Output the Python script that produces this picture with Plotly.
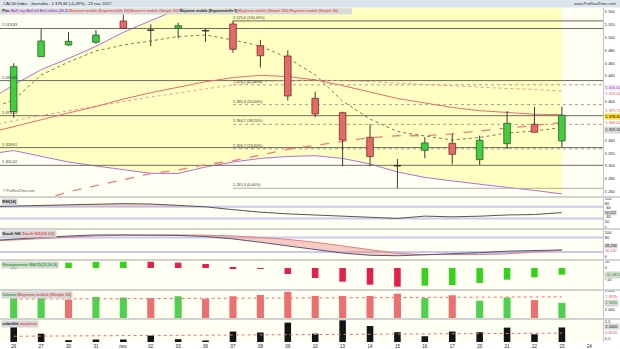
import numpy as np
import plotly.graph_objects as go

# ---------------- data ----------------
dates = ["26", "27", "30", "31", "nov.", "02", "03", "06", "07", "08", "09",
         "10", "13", "14", "15", "16", "17", "20", "21", "22", "23", "24"]

opens = [5384.4, 5470.0, 5488.2, 5492.4, 5525.5, 5511.0, 5514.2, 5510.0, 5520.8, 5487.1, 5471.1,
         5405.3, 5382.9, 5344.6, 5300.0, 5324.4, 5335.3, 5309.8, 5334.7, 5364.9, 5338.9]
highs = [5459.7, 5513.0, 5508.0, 5511.5, 5535.9, 5520.4, 5522.9, 5514.2, 5525.6, 5496.0, 5479.9,
         5415.6, 5384.4, 5365.3, 5310.9, 5345.1, 5350.2, 5347.1, 5385.5, 5391.8, 5392.2]
lows = [5375.1, 5469.5, 5486.6, 5490.2, 5514.0, 5486.2, 5498.6, 5493.3, 5476.2, 5452.9, 5401.6,
        5375.7, 5299.5, 5299.5, 5265.3, 5312.0, 5302.6, 5301.6, 5326.4, 5352.4, 5328.5]
closes = [5454.4, 5494.4, 5493.9, 5503.7, 5514.2, 5511.5, 5518.2, 5510.5, 5481.5, 5471.5, 5408.9,
          5380.9, 5340.4, 5314.5, 5300.8, 5335.8, 5318.2, 5340.0, 5366.4, 5352.4, 5378.84]

# indicators start one session earlier (25 oct.) so that lines reach the left edge
ind_x = list(range(-1, 21))
bb_upper = [5400.0, 5426.0, 5449.8, 5467.2, 5486.0, 5507.8, 5526.1, 5543.7, 5552.0, 5556.0, 5551.0,
            5551.0, 5551.0, 5554.0, 5560.0, 5567.0, 5571.0, 5572.0, 5573.0, 5574.0, 5576.0, 5577.0]
bb_mid = [5362.0, 5370.8, 5378.5, 5385.8, 5393.3, 5400.3, 5407.3, 5413.5, 5419.8, 5426.0, 5430.6,
          5433.0, 5433.7, 5433.0, 5431.4, 5429.0, 5426.7, 5424.4, 5422.0, 5420.5, 5419.0, 5416.6]
bb_lower = [5318.0, 5324.0, 5315.0, 5306.2, 5300.0, 5293.8, 5288.6, 5288.3, 5298.4, 5306.2, 5311.7,
            5314.8, 5316.0, 5311.7, 5303.1, 5290.7, 5282.2, 5276.7, 5271.3, 5266.6, 5262.0, 5256.5]
ema20 = [5350.6, 5361.4, 5372.3, 5382.4, 5392.5, 5404.0, 5414.0, 5423.0, 5431.0, 5437.5, 5441.0,
         5439.0, 5434.0, 5425.0, 5415.0, 5405.0, 5398.0, 5391.0, 5386.0, 5383.0, 5380.5, 5379.7]
sma50 = [5222.0, 5234.0, 5246.0, 5260.0, 5269.0, 5278.0, 5288.0, 5294.0, 5302.0, 5308.0, 5317.0,
         5326.0, 5332.0, 5338.0, 5344.0, 5347.0, 5347.0, 5350.0, 5355.0, 5359.0, 5363.0, 5368.0]
ema5 = [5387.0, 5402.6, 5441.5, 5461.7, 5478.8, 5488.2, 5494.4, 5501.4, 5503.7, 5496.0, 5486.6,
        5468.0, 5441.5, 5401.0, 5373.0, 5353.6, 5346.7, 5340.4, 5344.3, 5351.3, 5354.4, 5359.9]

support_levels = [5513.83, 5432.80, 5378.23, 5328.61, 5301.02]
fib_levels = [5525.6, 5426.2, 5395.4, 5364.7, 5326.7, 5265.3]
fib_pcts = [100.0, 61.8, 50.0, 38.2, 23.6, 0.0]
fib_start = 8

price_ticks = [5260, 5280, 5300, 5320, 5340, 5400, 5440, 5460, 5480, 5500, 5520, 5540]
rsi_ticks = [0, 20, 80, 100]
rsi_mid_ticks = [60, 40]
stoch_ticks = [0, 80, 100]

rsi = [70.6, 72.6, 76.5, 79.0, 81.0, 81.0, 79.7, 75.8, 70.0, 60.3, 51.6, 45.8, 42.0, 38.7, 33.9,
       30.0, 38.0, 35.5, 37.7, 42.0, 43.5, 50.122]
stoch_k = [66.0, 74.0, 80.0, 86.0, 90.5, 90.5, 90.5, 88.5, 84.0, 74.0, 60.0, 45.0, 30.0, 15.0, 6.0,
           4.0, 8.0, 11.0, 17.0, 23.0, 26.0, 28.294]
stoch_d = [64.0, 70.0, 76.0, 82.0, 86.4, 89.3, 90.5, 90.5, 89.3, 86.4, 80.0, 72.0, 60.0, 44.0, 28.0,
           14.0, 9.0, 8.0, 9.0, 12.0, 18.0, 26.53]

macd_hist = [0.6, 5.0, 8.9, 10.2, 10.6, 10.4, 8.9, 6.7, 1.2, -1.2, -10.0, -16.7, -22.8, -27.8,
             -31.1, -29.4, -28.3, -25.0, -19.4, -15.6, -11.0874]
volume_k = [2911, 2860, 2547, 2691, 2655, 2624, 2726, 2588, 2726, 2793, 2962, 2742, 2742, 2742,
            2860, 2624, 2778, 2486, 2655, 2522, 2368]
volume_sma_k = [2570, 2575, 2580, 2585, 2590, 2595, 2600, 2605, 2612, 2620, 2630, 2640, 2650, 2658,
                2665, 2672, 2678, 2683, 2687, 2690, 2692]
volat = [1.40, 0.776, 0.38, 0.42, 0.42, 0.66, 0.44, 0.36, 0.91, 0.85, 1.46, 0.78, 1.60, 1.25, 0.87,
         0.62, 0.91, 0.87, 1.15, 0.74, 1.16]
volat_sma = [0.62, 0.63, 0.63, 0.64, 0.65, 0.66, 0.66, 0.67, 0.68, 0.69, 0.70, 0.71, 0.72, 0.73,
             0.74, 0.75, 0.76, 0.77, 0.78, 0.79, 0.81]

# ---------------- helpers ----------------
FONT = "Liberation Sans, Arial, sans-serif"
PLOT_T, PLOT_B, PLOT_W = 8, 342, 603
H = PLOT_B - PLOT_T


def py(px):
    return 1 - (px - PLOT_T) / H


def dom(top, bot):
    return [py(bot), py(top)]


def fr(v, d=2):
    return f"{v:,.{d}f}".replace(",", " ").replace(".", ",")


idx = list(range(len(closes)))

PURPLE = "#b56fd8"
YELLOW = "#ffffc2"
SALMON = "#e46d6d"
GREEN = "#3fcf3f"
RED = "#e46a6a"

fig = go.Figure()


def add(tr, yax):
    tr.update(xaxis="x", yaxis=yax, showlegend=False, hoverinfo="skip")
    fig.add_trace(tr)


# ---------- main pane (base axis y) ----------
add(go.Scatter(x=ind_x, y=bb_lower, mode="lines", line=dict(color=PURPLE, width=1)), "y")
add(go.Scatter(x=ind_x, y=bb_upper, mode="lines", fill="tonexty", fillcolor=YELLOW,
               line=dict(color=PURPLE, width=1)), "y")

sx, sy = [], []
for lv in support_levels:
    sx += [-0.5, 21.5, None]
    sy += [lv, lv, None]
add(go.Scatter(x=sx, y=sy, mode="lines", line=dict(color="#6e6e60", width=1)), "y")

fx_d, fy_d = [], []
for lv, pc in zip(fib_levels, fib_pcts):
    if pc in (100.0, 0.0):
        add(go.Scatter(x=[fib_start, 21.5], y=[lv, lv], mode="lines",
                       line=dict(color="#666655" if pc == 100.0 else "#b0b0a8", width=1)), "y")
    else:
        fx_d += [fib_start, 21.5, None]
        fy_d += [lv, lv, None]
add(go.Scatter(x=fx_d, y=fy_d, mode="lines", line=dict(color="#a0a098", width=1, dash="dot")), "y")

add(go.Scatter(x=ind_x, y=sma50, mode="lines", line=dict(color="#ec8080", width=1.3, dash="dash")), "y")
add(go.Scatter(x=ind_x, y=bb_mid, mode="lines", line=dict(color="#ec9a9a", width=1, dash="dot")), "y")
add(go.Scatter(x=ind_x, y=ema20, mode="lines", line=dict(color=SALMON, width=1)), "y")
add(go.Scatter(x=ind_x, y=ema5, mode="lines", line=dict(color="#77775a", width=1, dash="dot")), "y")

# ---------- candles on overlay axis y7 (drawn above the band fill) ----------
body_col, body_line = [], []
for o, c in zip(opens, closes):
    if c > o + 1:
        body_col.append(GREEN); body_line.append("#2b5d2b")
    elif c < o - 1:
        body_col.append(RED); body_line.append("#7d2c2c")
    else:
        body_col.append("#333333"); body_line.append("#222222")
add(go.Bar(x=idx, y=[c - o for o, c in zip(opens, closes)], base=opens, width=0.24,
           marker=dict(color=body_col, line=dict(color=body_line, width=0.8))), "y7")
wx, wy = [], []
for i in idx:
    top, bot = max(opens[i], closes[i]), min(opens[i], closes[i])
    wx += [i, i, None, i, i, None]
    wy += [highs[i], top, None, bot, lows[i], None]
add(go.Scatter(x=wx, y=wy, mode="lines", line=dict(color="#3a3a3a", width=1)), "y7")

# ---------- RSI ----------
add(go.Scatter(x=ind_x, y=[70] * len(ind_x), mode="lines", line=dict(width=0)), "y2")
add(go.Scatter(x=ind_x, y=np.maximum(rsi, 70), mode="lines", fill="tonexty",
               fillcolor="rgba(225,150,150,0.45)", line=dict(width=0)), "y2")
add(go.Scatter(x=ind_x, y=rsi, mode="lines", line=dict(color="#555555", width=1)), "y2")

# ---------- Stochastic ----------
kd_max = np.maximum(stoch_k, stoch_d)
add(go.Scatter(x=ind_x, y=stoch_d, mode="lines", line=dict(width=0)), "y3")
add(go.Scatter(x=ind_x, y=kd_max, mode="lines", fill="tonexty",
               fillcolor="rgba(150,150,220,0.45)", line=dict(width=0)), "y3")
add(go.Scatter(x=ind_x, y=stoch_k, mode="lines", line=dict(width=0)), "y3")
add(go.Scatter(x=ind_x, y=kd_max, mode="lines", fill="tonexty",
               fillcolor="rgba(235,140,130,0.45)", line=dict(width=0)), "y3")
add(go.Scatter(x=ind_x, y=stoch_d, mode="lines", line=dict(color="#e08080", width=1)), "y3")
add(go.Scatter(x=ind_x, y=stoch_k, mode="lines", line=dict(color="#555577", width=1)), "y3")

# ---------- MACD histogram ----------
macd_col = [("#35d41a" if (i == 0 or macd_hist[i] > macd_hist[i - 1]) else "#e3204b") for i in idx]
add(go.Bar(x=idx, y=macd_hist, width=0.24, marker=dict(color=macd_col, line=dict(width=0))), "y4")

# ---------- Volume ----------
vol_col = [("#4fd04f" if (closes[i] > (closes[i - 1] if i > 0 else opens[i])) else "#ec7070") for i in idx]
add(go.Bar(x=idx, y=volume_k, width=0.26, marker=dict(color=vol_col, line=dict(width=0))), "y5")
add(go.Scatter(x=idx, y=volume_sma_k, mode="lines", line=dict(color="#f07070", width=1, dash="dot")), "y5")

# ---------- Volatility ----------
add(go.Bar(x=idx, y=volat, width=0.24, marker=dict(color="#141414", line=dict(width=0))), "y6")
add(go.Scatter(x=idx, y=volat_sma, mode="lines", line=dict(color="#f07070", width=1, dash="dot")), "y6")

# ---------------- layout ----------------
tf = dict(family=FONT, size=4, color="#222")
common_y = dict(side="right", anchor="x", showgrid=False, zeroline=False, ticks="",
                showline=True, linecolor="#c4c4c4", linewidth=1, tickfont=tf, fixedrange=True)

main_range = [5253.3, 5545.7]
fig.update_layout(
    width=620, height=349, autosize=False,
    margin=dict(l=0, r=620 - PLOT_W, t=PLOT_T, b=349 - PLOT_B),
    paper_bgcolor="#ffffff", plot_bgcolor="#fffff4",
    separators=", ", barmode="overlay", showlegend=False,
    font=dict(family=FONT, size=4, color="#222"),
    xaxis=dict(domain=[0, 1], range=[-0.5, 21.5], anchor="y6", tickvals=list(range(len(dates))),
               ticktext=dates, tickfont=dict(family=FONT, size=4.5, color="#222"), showgrid=False,
               zeroline=False, ticks="", showline=False, fixedrange=True),
    yaxis=dict(domain=dom(8, 196), range=main_range, tickvals=price_ticks,
               tickformat=",d", **common_y),
    yaxis7=dict(overlaying="y", matches="y", range=main_range, visible=False, anchor="x"),
    yaxis2=dict(domain=dom(198, 228), range=[-3, 100.5], tickvals=rsi_ticks, **common_y),
    yaxis3=dict(domain=dom(230, 259), range=[-9.5, 111], tickvals=stoch_ticks, **common_y),
    yaxis4=dict(domain=dom(261, 289), range=[-35, 11.7], tickvals=[-20, 0, 10], **common_y),
    yaxis5=dict(domain=dom(291, 318), range=[1564, 3005], tickvals=[2000, 3000], tickformat=",d",
                ticksuffix="k", **common_y),
    yaxis6=dict(domain=dom(320, 342), range=[0.265, 1.62], tickvals=[0.5, 1.5], tickformat=".1f", **common_y),
)

# level lines for RSI / Stoch (thick lavender)
shapes = []
for yref, lv in [("y2", 70), ("y2", 30), ("y3", 80), ("y3", 20)]:
    shapes.append(dict(type="line", xref="x", yref=yref, x0=-0.5, x1=21.5, y0=lv, y1=lv,
                       line=dict(color="#c9c9f2", width=2), layer="below"))

XR = 620 / PLOT_W
for a, b in [(196, 198), (228, 230), (259, 261), (289, 291), (318, 320)]:
    shapes.append(dict(type="rect", xref="paper", yref="paper", x0=0, x1=XR, y0=py(b), y1=py(a),
                       fillcolor="#d2d2d2", line=dict(width=0), layer="above"))
# title bar
shapes.append(dict(type="rect", xref="paper", yref="paper", x0=0, x1=XR, y0=py(7.5), y1=py(0),
                   fillcolor="#dce4ed", line=dict(width=0), layer="above"))
# legend box in main pane
shapes.append(dict(type="rect", xref="paper", yref="paper", x0=0, x1=352 / PLOT_W, y0=py(14.5), y1=py(8.3),
                   fillcolor="#dadada", line=dict(width=0), layer="above"))
fig.update_layout(shapes=shapes)

ann = []


def note(text, x, y, xref="paper", yref="paper", xanchor="left", yanchor="middle", color="#222",
         size=4, bg=None, shift=0, xshift=0, pad=0.3):
    d = dict(text=text, x=x, y=y, xref=xref, yref=yref, xanchor=xanchor, yanchor=yanchor,
             showarrow=False, font=dict(family=FONT, size=size, color=color), yshift=shift,
             xshift=xshift, borderpad=pad)
    if bg:
        d["bgcolor"] = bg
    ann.append(d)


pct = (closes[-1] / closes[-2] - 1) * 100
note(f"CAC40 Index - Journalier - {fr(closes[-1])} (+{fr(pct)}%) - 23 nov. 2017", 0.004, py(3.9))
note("www.ProRealTime.com", XR - 0.003, py(3.9), xanchor="right", color="#333")

legend_html = ("<b>Prix:</b> <span style='color:#9a4fd0'><b>Boll sup Boll inf Boll milieu (20,2)</b></span> "
               "<span style='color:#e05a5a'><b>Moyenne mobile (Exponentielle 20) Moyenne mobile (Simple 50)</b></span> "
               "<b>Moyenne mobile (Exponentielle 5)</b> "
               "<span style='color:#e05a5a'><b>Moyenne mobile (Simple 200) Moyenne mobile (Simple 20)</b></span>")
note(legend_html, 0.002, py(11.4), size=3.6)
note("© ProRealTime.com", 0.003, py(191), size=3.5, color="#555")

for lv in support_levels:
    note(fr(lv), -0.48, lv, xref="x", yref="y", yanchor="bottom", size=3.8, color="#333", shift=-1)
for lv, pc in zip(fib_levels, fib_pcts):
    note(f"{fr(lv, 1)} ({fr(pc)}%)", fib_start - 0.05, lv, xref="x", yref="y", yanchor="bottom",
         size=3.8, color="#333", shift=-1)

# right-hand value labels
RX = 1 + 1 / PLOT_W
note(fr(bb_mid[-1]), RX, bb_mid[-1], yref="y", color="#8a4fc0", bg="#eeeaf6", shift=3.3)
note(fr(bb_mid[-1]), RX, bb_mid[-1], yref="y", color="#e05050", bg="#ffffff", shift=-3.3)
note(fr(ema20[-1]), RX, ema20[-1], yref="y", color="#e05050", bg="#ffffff", shift=3.8)
note(fr(closes[-1]), RX, closes[-1], yref="y", color="#000", bg="#ffd92e", shift=-2.2)
note(fr(sma50[-1]), RX, sma50[-1], yref="y", color="#e05050", bg="#ffffff", shift=-1)
note(fr(ema5[-1]), RX, ema5[-1], yref="y", color="#222", bg="#d8d8d8", shift=-2.5)

# RSI: value label with the 60 / 40 ticks set apart from it (as in the reference)
note(fr(rsi[-1], 3), RX, rsi[-1], yref="y2", color="#222", bg="#d8d8d8", size=3.6, pad=0)
note(str(rsi_mid_ticks[0]), RX + 0.001, rsi_mid_ticks[0], yref="y2", shift=1.8)
note(str(rsi_mid_ticks[1]), RX + 0.001, rsi_mid_ticks[1], yref="y2", shift=-1.8)

note(fr(stoch_k[-1], 3), RX, stoch_k[-1], yref="y3", color="#222", bg="#d8d8d8", shift=3.8, size=3.8, pad=0)
note(fr(stoch_d[-1], 3), RX, stoch_d[-1], yref="y3", color="#e05050", bg="#ffffff", shift=-1.0, size=3.8, pad=0)
note(fr(macd_hist[-1], 4), RX, macd_hist[-1], yref="y4", color="#22aa22", bg="#d8d8d8")
note(fr(volume_sma_k[-1], 0) + "k", RX, volume_sma_k[-1], yref="y5", color="#e05050", bg="#ffffff")
note(fr(volume_k[-1], 0) + "k", RX, volume_k[-1], yref="y5", color="#22aa22", bg="#d8d8d8")
note(fr(volat[-1], 4), RX, volat[-1], yref="y6", color="#222", bg="#d8d8d8")
note(fr(volat_sma[-1], 4), RX, volat_sma[-1], yref="y6", color="#e05050", bg="#ffffff")

# pane titles
note("<b>RSI(14)</b>", 0.002, py(198.3), yanchor="top", bg="#d6d6d6")
note("<b>Stoch %K</b> <span style='color:#e05050'><b>Stoch %D(14,3,5)</b></span>", 0.002, py(230.3),
     yanchor="top", bg="#d6d6d6")
note("<b>Histogramme MACD(12,26,9)</b>", 0.002, py(261.3), yanchor="top", bg="#d6d6d6", color="#2aa52a")
note("<b>Volume</b> <span style='color:#e05050'><b>Moyenne mobile (Simple 20)</b></span>", 0.002, py(291.3),
     yanchor="top", bg="#d6d6d6", color="#2aa52a")
note("<b>volatilité</b> <span style='color:#e05050'><b>moyenne</b></span>", 0.002, py(320.3),
     yanchor="top", bg="#d6d6d6")

fig.update_layout(annotations=ann)
fig.write_html("out.html")
